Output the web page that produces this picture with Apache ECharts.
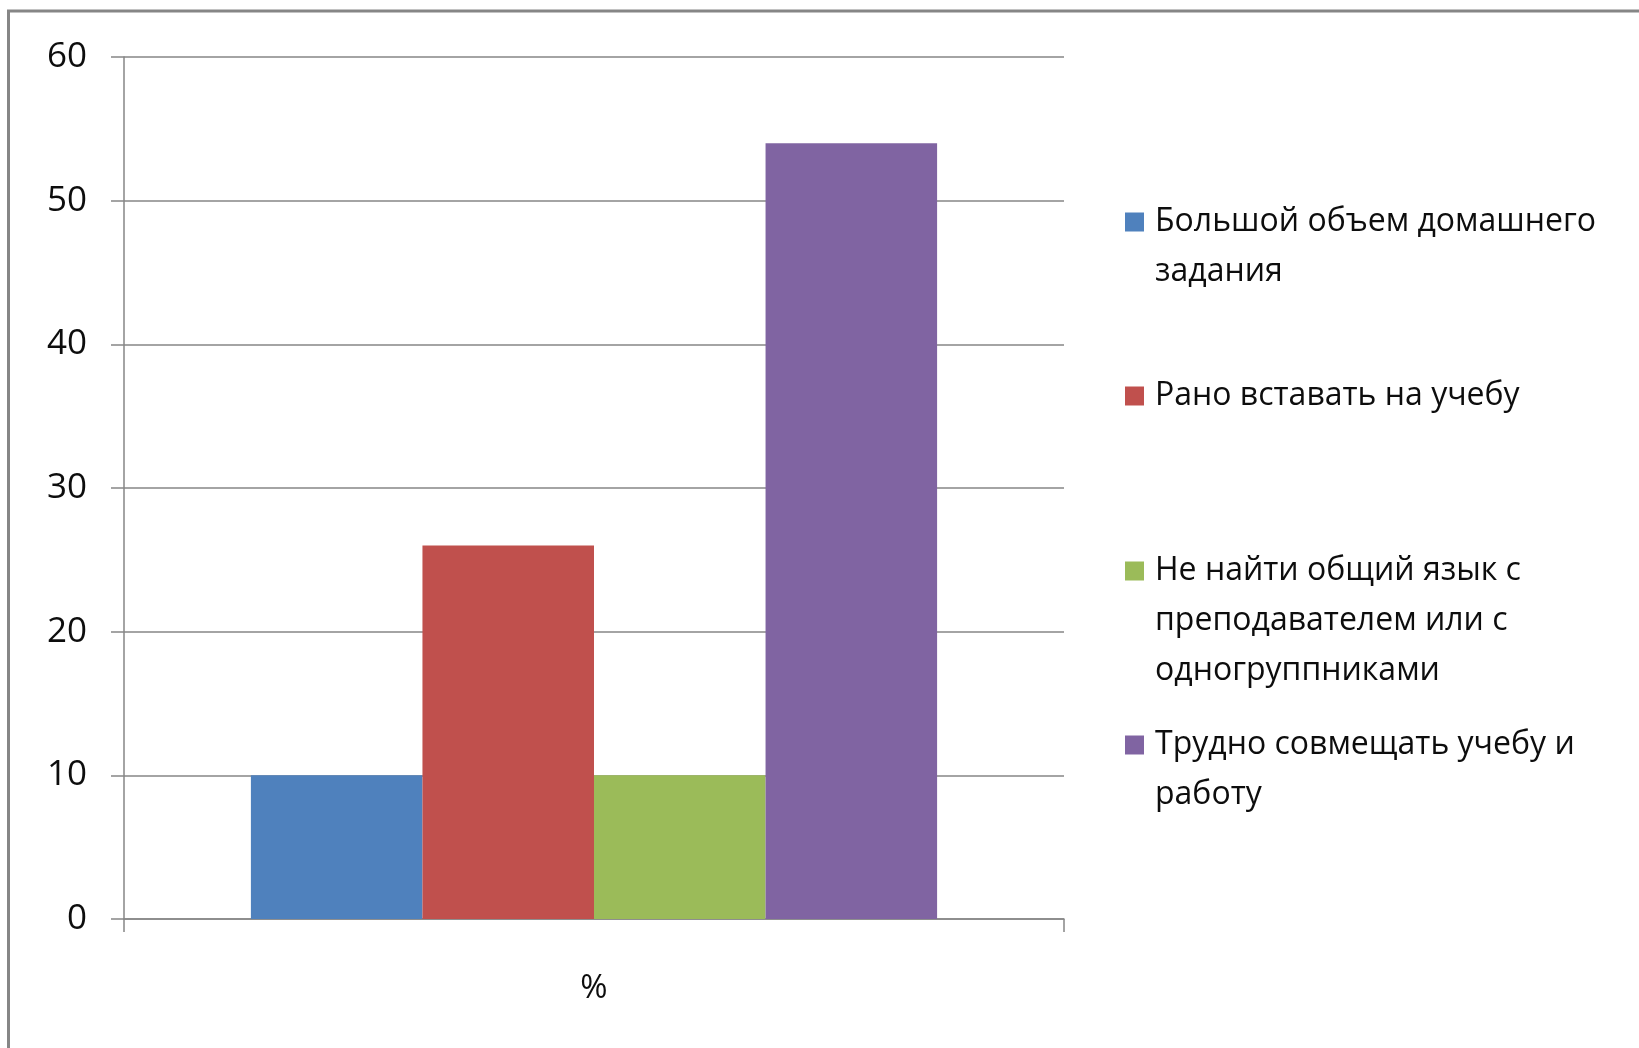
<!DOCTYPE html>
<html>
<head>
<meta charset="utf-8">
<script src="https://cdn.jsdelivr.net/npm/echarts@6/dist/echarts.min.js"></script>
<style>
html,body{margin:0;padding:0;background:#fff;}
#chart{width:1639px;height:1048px;}
</style>
</head>
<body>
<div id="chart"></div>
<script>
const categories = ['%'];
const seriesNames = [
  'Большой объем домашнего\nзадания',
  'Рано вставать на учебу',
  'Не найти общий язык с\nпреподавателем или с\nодногруппниками',
  'Трудно совмещать учебу и\nработу'
];
const seriesValues = [[10], [26], [10], [54]];
const colors = ['#4F81BD', '#C0504D', '#9BBB59', '#8064A2'];
const yTicks = { min: 0, max: 60, interval: 10 };

const FONT = '"Open Sans", "Noto Sans", sans-serif';
const LINE_H = 50;
const legendCenters = [223, 397, 572, 746];

const chart = echarts.init(document.getElementById('chart'), null, { renderer: 'canvas' });

const legends = seriesNames.map((name, i) => {
  const n = name.split('\n').length;
  return {
    data: [name],
    orient: 'vertical',
    left: 1125,
    top: legendCenters[i] - (2 * n - 1) * LINE_H / 2 - 1,
    padding: 0,
    itemWidth: 19,
    itemHeight: 19,
    icon: 'rect',
    selectedMode: false,
    // blank lines above keep the marker level with the first text line
    formatter: (nm) => '\n'.repeat(n - 1) + nm,
    textStyle: {
      fontFamily: FONT,
      fontSize: 32,
      lineHeight: LINE_H,
      color: '#0d0d0d',
      padding: [0, 0, 0, 6]
    }
  };
});

const series = seriesNames.map((name, i) => ({
  name: name,
  type: 'bar',
  data: seriesValues[i],
  barGap: '0%',
  barCategoryGap: '27%',
  itemStyle: { color: colors[i] },
  emphasis: { disabled: true }
}));

chart.setOption({
  animation: false,
  backgroundColor: '#ffffff',
  color: colors,
  grid: { left: 124, right: 575, top: 57, bottom: 129, containLabel: false },
  legend: legends,
  xAxis: {
    type: 'category',
    data: categories,
    axisLine: { show: true, lineStyle: { color: '#868686', width: 1.5 } },
    axisTick: { show: true, length: 13, alignWithLabel: false, lineStyle: { color: '#868686', width: 1.5 } },
    axisLabel: { margin: 53, fontFamily: FONT, fontSize: 33, color: '#0d0d0d' },
    splitLine: { show: false }
  },
  yAxis: {
    type: 'value',
    min: yTicks.min,
    max: yTicks.max,
    interval: yTicks.interval,
    axisLine: { show: true, lineStyle: { color: '#868686', width: 1.5 } },
    axisTick: { show: true, length: 13, lineStyle: { color: '#868686', width: 1.5 } },
    axisLabel: { margin: 37, fontFamily: FONT, fontSize: 35, color: '#0d0d0d' },
    splitLine: { show: true, lineStyle: { color: '#868686', width: 1.5 } }
  },
  graphic: [{
    type: 'polyline',
    shape: { points: [[8.5, 1048], [8.5, 11], [1639, 11]] },
    style: { stroke: '#868686', lineWidth: 3, fill: null },
    silent: true
  }],
  series: series
});
</script>
</body>
</html>
